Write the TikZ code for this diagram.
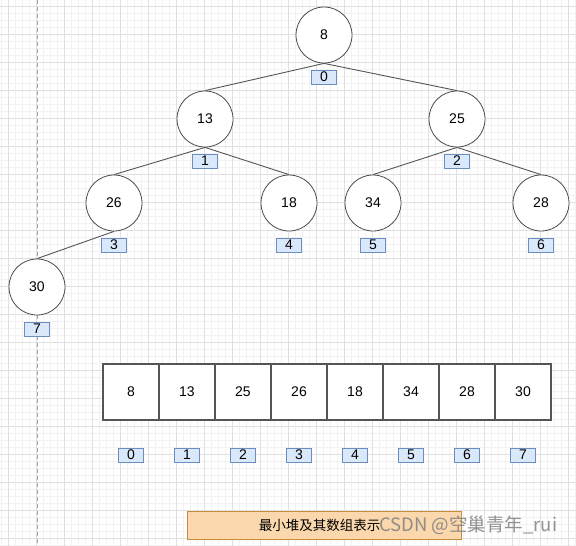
\documentclass[tikz,border=0pt]{standalone}
\usepackage{fontspec}
\setmainfont{Liberation Sans}
\newfontfamily\cjk{Noto Sans CJK SC}
\usetikzlibrary{positioning}
\definecolor{idxfill}{HTML}{DAE8FC}
\definecolor{idxline}{HTML}{6C8EBF}
\definecolor{capfill}{HTML}{FAD7AC}
\definecolor{capline}{HTML}{C98B3E}
\definecolor{edgegray}{HTML}{555555}

\tikzset{
  heapnode/.style={circle, draw=edgegray!90!black, fill=white, line width=0.8pt,
    minimum size=56pt, inner sep=0pt, font=\fontsize{14}{14}\selectfont},
  idx/.style={rectangle, draw=idxline, fill=idxfill, line width=0.8pt,
    minimum width=25pt, minimum height=14pt, inner sep=0pt,
    font=\fontsize{14}{14}\selectfont},
  cell/.style={rectangle, draw=edgegray, line width=1.1pt, fill=white,
    minimum size=56pt, inner sep=0pt, font=\fontsize{14}{14}\selectfont},
  minorgrid/.style={draw=black!5, line width=0.6pt},
  majorgrid/.style={draw=black!12, line width=0.8pt},
  treeedge/.style={draw=edgegray, line width=0.9pt}
}

\begin{document}
\begin{tikzpicture}[x=1pt, y=-1pt, node distance=84pt, on grid]
\useasboundingbox[fill=white] (0,0) rectangle (576,546);
% background grid
\foreach \x in {1,8,...,575} \draw[minorgrid] (\x,0) -- (\x,546);
\foreach \y in {6,13,...,545} \draw[minorgrid] (0,\y) -- (576,\y);
\foreach \x in {8,36,...,575} \draw[majorgrid] (\x,0) -- (\x,546);
\foreach \y in {6,34,...,545} \draw[majorgrid] (0,\y) -- (576,\y);
\draw[black!35, line width=0.9pt, dash pattern=on 4pt off 3pt] (37,0) -- (37,546);

% heap as tree
\node[heapnode] (n0) at (324,35) {8};
\node[heapnode] (n1) [below left=84pt and 119pt of n0] {13};
\node[heapnode] (n2) [below right=84pt and 133pt of n0] {25};
\node[heapnode] (n3) [below left=84pt and 91pt of n1] {26};
\node[heapnode] (n4) [below right=84pt and 84pt of n1] {18};
\node[heapnode] (n5) [below left=84pt and 84pt of n2] {34};
\node[heapnode] (n6) [below right=84pt and 84pt of n2] {28};
\node[heapnode] (n7) [below left=84pt and 77pt of n3] {30};
\foreach \p/\c in {0/1,0/2,1/3,1/4,2/5,2/6,3/7}
  \draw[treeedge] (n\p.south) -- (n\c.north);
\foreach \i in {0,...,7}
  \node[idx] (t\i) [below=42pt of n\i] {\i};

% heap as array
\foreach \v [count=\i from 0] in {8,13,25,26,18,34,28,30} {
  \node[cell] (a\i) at (131+56*\i,392) {\v};
  \node[idx] (b\i) [below=63pt of a\i] {\i};
}

% caption
\node[rectangle, draw=capline, fill=capfill, line width=0.8pt,
  minimum width=274pt, minimum height=28pt, inner sep=0pt,
  font=\cjk\fontsize{13.5}{13.5}\selectfont] (cap) at (324.5,525.5) {\hspace*{-10pt}最小堆及其数组表示};
\node[anchor=west, inner sep=0pt, text=black!50, text opacity=0.85,
  font=\cjk\fontsize{18.5}{18.5}\selectfont] (mark) at (379,525) {CSDN @空巢青年\_rui};
\end{tikzpicture}
\end{document}
